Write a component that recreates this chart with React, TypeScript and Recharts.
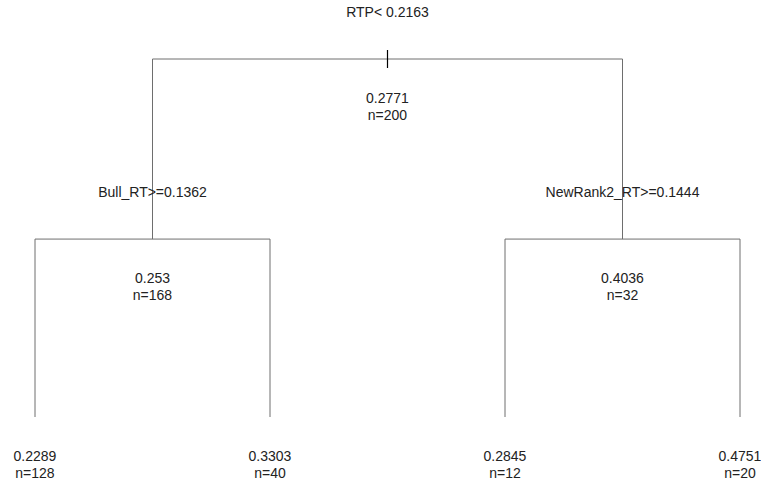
// Regression tree (rpart-style): split labels above each branch bar,
// fitted mean and node size under every node.
import { ScatterChart, Scatter, XAxis, YAxis } from "recharts";

const FONT = "'Liberation Sans', Arial, sans-serif";
const EDGE_COLOR = "#6e6e6e";
const TEXT_COLOR = "#222222";

// node order: root, left child, right child, then the four leaves
const nodeX = [2.5, 1.5, 3.5, 1, 2, 3, 4];
const nodeHeight = [1, 0.497, 0.497, 0, 0, 0, 0];
const nodeMean = ["0.2771", "0.253", "0.4036", "0.2289", "0.3303", "0.2845", "0.4751"];
const nodeN = [200, 168, 32, 128, 40, 12, 20];

// internal nodes: index, split rule, [left, right] children
const splitNode = [0, 1, 2];
const splitRule = ["RTP< 0.2163", "Bull_RT>=0.1362", "NewRank2_RT>=0.1444"];
const splitChildren = [
  [1, 2],
  [3, 4],
  [5, 6],
];

const nodes = nodeX.map((x, i) => ({
  x,
  y: nodeHeight[i],
  mean: nodeMean[i],
  n: nodeN[i],
  rule: splitRule[splitNode.indexOf(i)] ?? null,
  root: i === 0,
}));

// each split draws as a bracket: down-left leg, bar across, down-right leg
const branches = splitNode.map((p, k) => {
  const [l, r] = splitChildren[k];
  return [
    { x: nodeX[l], y: nodeHeight[l] },
    { x: nodeX[l], y: nodeHeight[p] },
    { x: nodeX[r], y: nodeHeight[p] },
    { x: nodeX[r], y: nodeHeight[r] },
  ];
});

function NodeText(props: any) {
  const { cx, cy, payload } = props;
  if (cx == null || cy == null) return null;
  return (
    <g fontFamily={FONT} fontSize={14} fill={TEXT_COLOR} textAnchor="middle">
      {payload.rule && (
        <text x={cx} y={cy - 47} dominantBaseline="central">
          {payload.rule}
        </text>
      )}
      {payload.root && (
        <line x1={cx} x2={cx} y1={cy - 9} y2={cy + 9} stroke="#000" strokeWidth={1.2} />
      )}
      <text x={cx} y={cy + 39} dominantBaseline="central">
        {payload.mean}
      </text>
      <text x={cx} y={cy + 56} dominantBaseline="central">
        {`n=${payload.n}`}
      </text>
    </g>
  );
}

export default function App() {
  return (
    <div style={{ position: "absolute", left: 0, top: 0, background: "#fff" }}>
      <ScatterChart
        width={761}
        height={484}
        margin={{ top: 59, right: 21, bottom: 67, left: 35 }}
      >
        <XAxis type="number" dataKey="x" domain={[1, 4]} hide />
        <YAxis type="number" dataKey="y" domain={[0, 1]} hide />
        {branches.map((b, i) => (
          <Scatter
            key={i}
            data={b}
            line={{ stroke: EDGE_COLOR, strokeWidth: 1 }}
            shape={() => <g />}
            isAnimationActive={false}
          />
        ))}
        <Scatter data={nodes} shape={NodeText} isAnimationActive={false} />
      </ScatterChart>
    </div>
  );
}
